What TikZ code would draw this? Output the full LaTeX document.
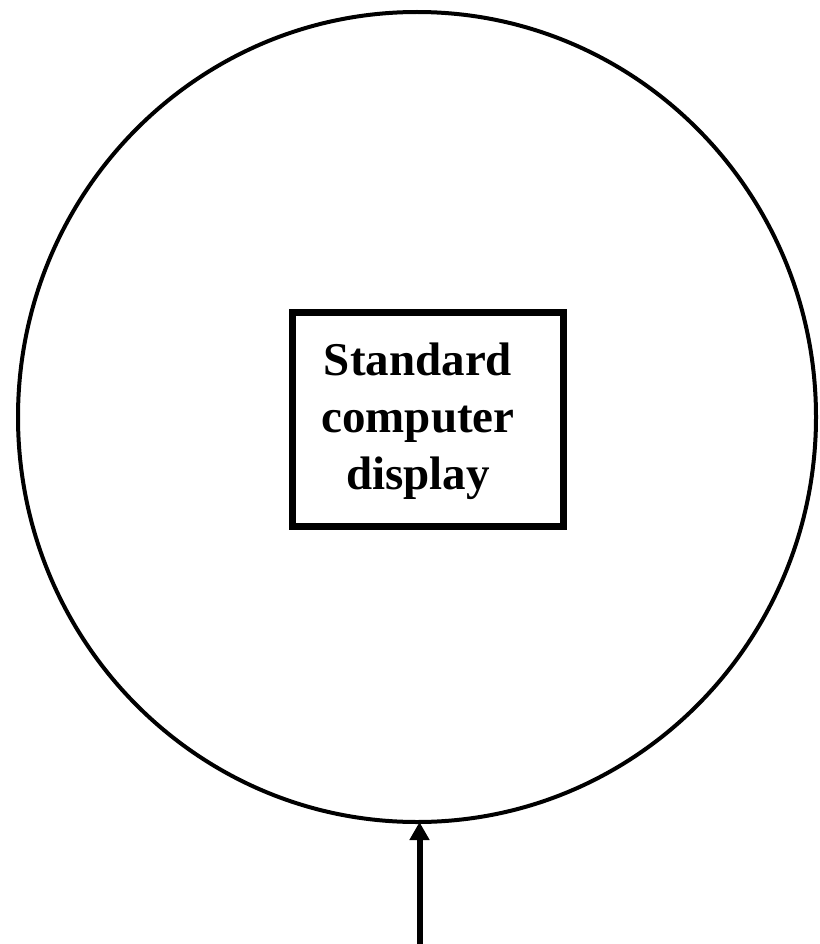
\documentclass[tikz,border=0pt]{standalone}
\usepackage{fontspec}
\setmainfont{Liberation Serif}
\usetikzlibrary{shapes.geometric,arrows.meta}
\begin{document}
\begin{tikzpicture}[x=1pt,y=-1pt,
  ring/.style={draw=black,ellipse,line width=4pt,inner sep=0pt,outer sep=0pt,minimum width=798pt,minimum height=810pt},
  screenbox/.style={draw=black,rectangle,line width=7pt,inner sep=0pt,outer sep=0pt,minimum width=271pt,minimum height=214pt},
  boxtext/.style={align=center,inner sep=0pt,font=\bfseries\fontsize{47}{57}\selectfont},
  pointer/.style={line width=6pt,-{Triangle[width=19pt,length=18pt]}}
]
\useasboundingbox (0,0) rectangle (819,944);
\node[ring] (circ) at (417,417) {};
\node[screenbox] (box) at (428,419) {};
\node[boxtext] (txt) at (418,421) {Standard\\computer\\display};
\coordinate (src) at (419.5,944);
\draw[pointer] (src) -- (src |- circ.south);
\end{tikzpicture}
\end{document}
